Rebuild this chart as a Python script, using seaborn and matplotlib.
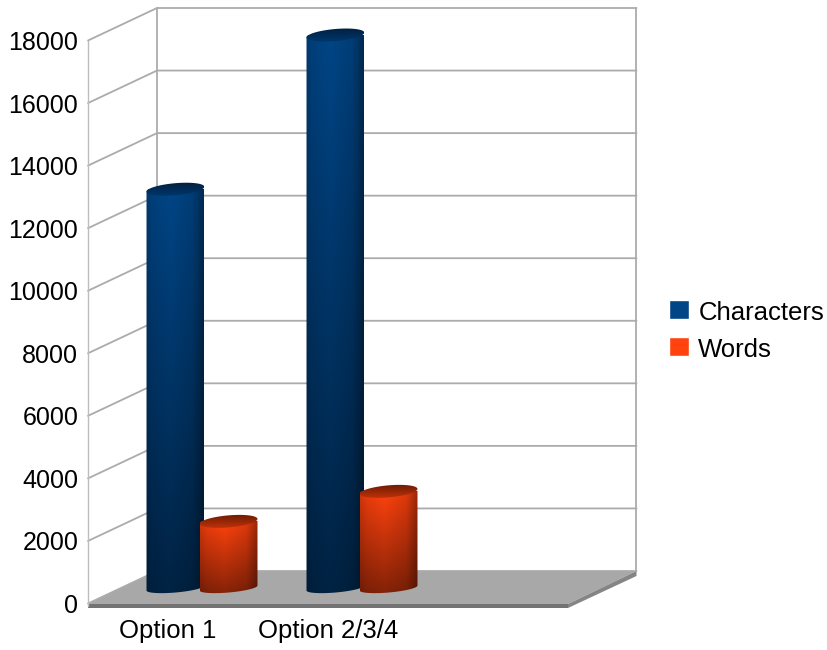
import numpy as np
import pandas as pd
import matplotlib
matplotlib.use("Agg")
import matplotlib.pyplot as plt
from matplotlib.colors import to_rgb
from matplotlib.path import Path
import seaborn as sns

sns.set_theme(style="white")
plt.rcParams["font.family"] = ["Liberation Sans", "DejaVu Sans"]

# ── DATA ──────────────────────────────────────────────────────────────────────
options = ["Option 1", "Option 2/3/4"]
characters = [12750, 17680]
words = [2130, 3090]
y_ticks = [0, 2000, 4000, 6000, 8000, 10000, 12000, 14000, 16000, 18000]
series_names = ["Characters", "Words"]
series_colors = ["#004586", "#ff420e"]
cap_colors = [("#001c38", "#003a72"), ("#5f1804", "#c93409")]

df = pd.DataFrame({
    "Option": options * 2,
    "Count": characters + words,
    "Series": [series_names[0]] * 2 + [series_names[1]] * 2,
})

# ── LAYOUT (pixels of the 828x650 picture) ────────────────────────────────────
W, H = 828, 650
FRONT_L, FRONT_R, FRONT_B, FRONT_T = 88, 568, 603.5, 40.5
DX, DY = 34, 15.5        # plane of the cylinders sits behind the front plane
BACK_L, BACK_R, BACK_B, BACK_T = 157, 636.5, 571, 8
GRID = "#ababab"


def axes_from_px(fig, left, right, bottom, top):
    return fig.add_axes([left / W, 1 - bottom / H, (right - left) / W, (bottom - top) / H])


fig = plt.figure(figsize=(W / 100, H / 100), dpi=100, facecolor="white")

# walls and floor
wall = fig.add_axes([0, 0, 1, 1])
wall.set_xlim(0, W)
wall.set_ylim(H, 0)
wall.axis("off")
px_per_unit = (BACK_B - BACK_T) / max(y_ticks)
for t in y_ticks:
    y = BACK_B - t * px_per_unit
    yf = FRONT_B - t * (FRONT_B - FRONT_T) / max(y_ticks)
    wall.plot([FRONT_L, BACK_L, BACK_R], [yf, y, y], color=GRID, lw=1.3, solid_joinstyle="miter")
wall.plot([FRONT_L, FRONT_L], [FRONT_T, 606], color="#bdbdbd", lw=1.0)
wall.plot([BACK_L, BACK_L], [BACK_T, BACK_B], color=GRID, lw=1.3)
wall.plot([BACK_R, BACK_R], [BACK_T, BACK_B], color=GRID, lw=1.3)
wall.fill([BACK_L, BACK_R, FRONT_R, FRONT_L], [BACK_B, BACK_B, 604, 604], color="#a8a8a8", lw=0)
wall.fill([FRONT_L, FRONT_R, FRONT_R, FRONT_L], [604, 604, 608, 608], color="#737373", lw=0)
wall.fill([FRONT_R, BACK_R, BACK_R, FRONT_R], [604, BACK_B, 576, 608], color="#858585", lw=0)

# front plane carries the tick labels
ax = axes_from_px(fig, FRONT_L, FRONT_R, FRONT_B, FRONT_T)
ax.patch.set_alpha(0)
ax.set_xlim(-0.5, 2.5)
ax.set_ylim(0, max(y_ticks))
ax.set_yticks(y_ticks)
ax.set_xticks(range(len(options)), options)
ax.tick_params(axis="y", length=0, pad=7, labelsize=18, labelcolor="black")
ax.tick_params(axis="x", length=0, pad=11.2, labelsize=18.5, labelcolor="black")
sns.despine(ax=ax, left=True, bottom=True)

# cylinder plane
bar_ax = axes_from_px(fig, FRONT_L + DX, FRONT_R + DX, FRONT_B - DY, FRONT_T - DY)
bar_ax.patch.set_alpha(0)
sns.barplot(data=df, x="Option", y="Count", hue="Series", order=options,
            hue_order=series_names, palette=series_colors, width=0.665,
            saturation=1, ax=bar_ax)
bar_ax.set_xlim(-0.5, 2.5)
bar_ax.set_ylim(0, max(y_ticks))
bar_ax.set_autoscale_on(False)
sns.move_legend(bar_ax, loc="upper left", bbox_to_anchor=(669.5 / W, 1 - 299 / H),
                bbox_transform=fig.transFigure, title=None, frameon=False,
                fontsize=18.5, handlelength=0.76, handleheight=0.76,
                handletextpad=0.36, labelspacing=0.52, borderaxespad=0, borderpad=0)
for txt in bar_ax.get_legend().get_texts():
    txt.set_color("black")
    txt.set_y(-2)
bar_ax.axis("off")

# cylinders: flat seaborn bars give the geometry, shading is painted over them
unit_x = 3 / (FRONT_R - FRONT_L)
unit_y = max(y_ticks) / (FRONT_B - FRONT_T)
BAR_W = 58 * unit_x
SEMI_A, SEMI_B, BASE_B, TILT = 29.0, 6.0, 4.5, np.radians(5)


def ellipse_xy(cx, val, t, semi_b=SEMI_B):
    ex = SEMI_A * np.cos(t)
    ey = semi_b * np.sin(t)
    px = ex * np.cos(TILT) - ey * np.sin(TILT)
    py = ex * np.sin(TILT) + ey * np.cos(TILT)
    return cx + px * unit_x, val + py * unit_y


hshade = np.interp(np.linspace(0, 1, 116), [0, 0.12, 0.42, 0.8, 1], [0.82, 0.92, 1.0, 0.88, 0.6])
order = 0
for cont, color, (cap_dark, cap_light) in zip(bar_ax.containers, series_colors, cap_colors):
    order += 1
    for bar in cont:
        cx = bar.get_x() + bar.get_width() / 2
        val = bar.get_height()
        bar.set_x(cx - BAR_W / 2)
        bar.set_width(BAR_W)
        bar.set_visible(False)

        vshade = np.linspace(1.0, 0.5, 200)
        img = np.outer(vshade, hshade)[..., None] * np.array(to_rgb(color))
        low = -(SEMI_B + 3) * unit_y
        im = bar_ax.imshow(img, extent=(cx - BAR_W / 2, cx + BAR_W / 2, low, val),
                           origin="upper", aspect="auto", zorder=order * 2)
        # y grows upward in data space: lower arc of the base, upper arc of the top
        xb, yb = ellipse_xy(cx, 0, np.linspace(np.pi, 2 * np.pi, 60), BASE_B)
        xt, yt = ellipse_xy(cx, val, np.linspace(0, np.pi, 60))
        outline = np.column_stack([np.r_[xb, xt], np.r_[yb, yt]])
        im.set_clip_path(Path(outline), transform=bar_ax.transData)
        im.set_clip_box(fig.bbox)

        # top cap, dark at the far edge and fading towards the near edge
        grad = np.linspace(0, 1, 40)[:, None, None]
        cap_img = (1 - grad) * np.array(to_rgb(cap_dark)) + grad * np.array(to_rgb(cap_light))
        span = (SEMI_B + 3) * unit_y
        cap_im = bar_ax.imshow(cap_img, extent=(cx - BAR_W / 2, cx + BAR_W / 2, val - span, val + span),
                               origin="upper", aspect="auto", zorder=order * 2 + 1)
        xc, yc = ellipse_xy(cx, val, np.linspace(0, 2 * np.pi, 80))
        cap_im.set_clip_path(Path(np.column_stack([xc, yc])), transform=bar_ax.transData)
        cap_im.set_clip_box(fig.bbox)

fig.savefig("out.png", dpi=100)
